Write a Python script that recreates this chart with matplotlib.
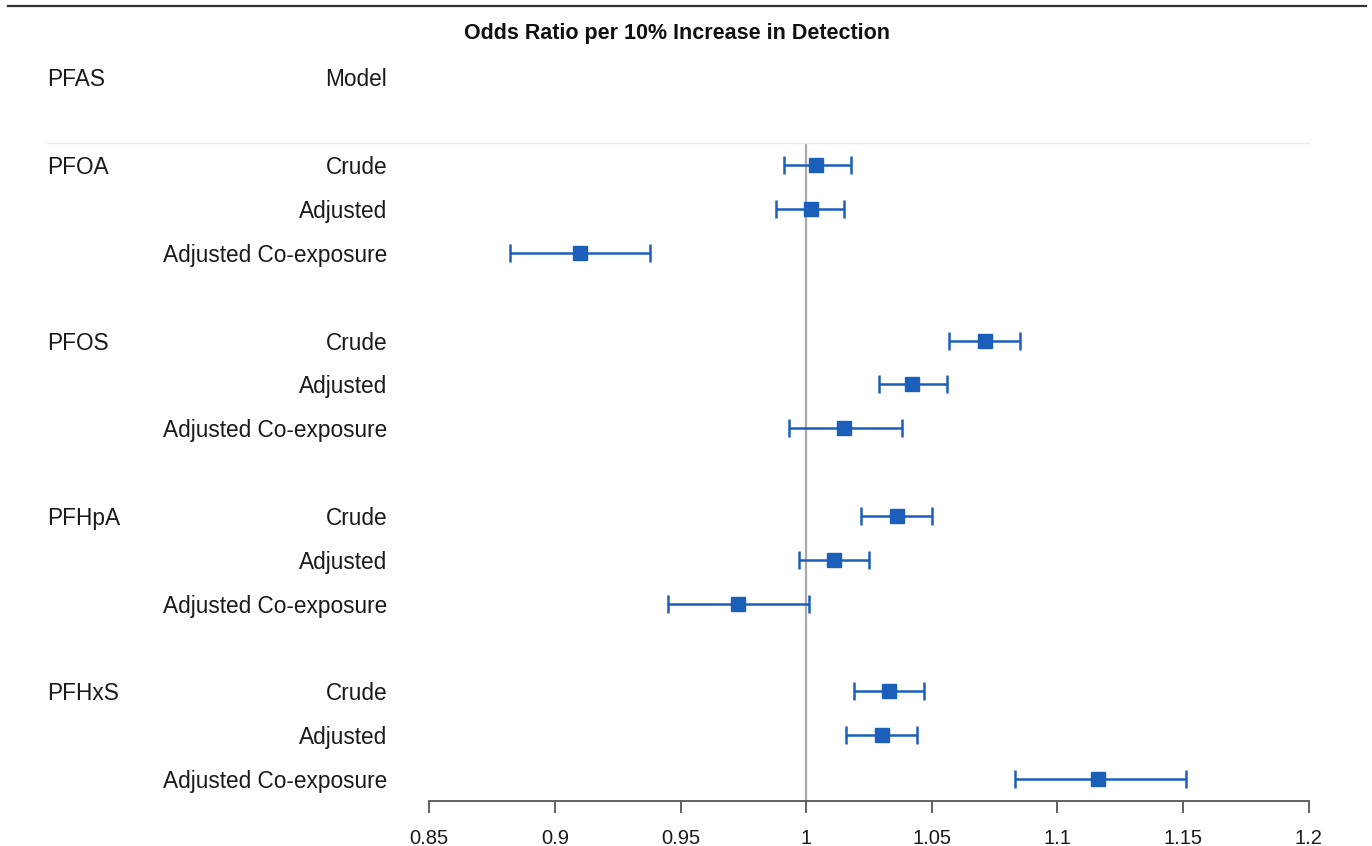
import matplotlib
matplotlib.use("Agg")
import matplotlib.pyplot as plt
import matplotlib.transforms as mtransforms
from matplotlib.lines import Line2D
import numpy as np

plt.rcParams['font.family'] = ['Liberation Sans', 'DejaVu Sans']

# data
pfas = ["PFOA", "PFOS", "PFHpA", "PFHxS"]
models = ["Crude", "Adjusted", "Adjusted Co-exposure"]

odds_ratio = [[1.004, 1.002, 0.910],
              [1.071, 1.042, 1.015],
              [1.036, 1.011, 0.973],
              [1.033, 1.030, 1.116]]
ci_low = [[0.991, 0.988, 0.882],
          [1.057, 1.029, 0.993],
          [1.022, 0.997, 0.945],
          [1.019, 1.016, 1.083]]
ci_high = [[1.018, 1.015, 0.938],
           [1.085, 1.056, 1.038],
           [1.050, 1.025, 1.001],
           [1.047, 1.044, 1.151]]

xticks = [0.85, 0.9, 0.95, 1.0, 1.05, 1.1, 1.15, 1.2]
xtick_labels = ["0.85", "0.9", "0.95", "1", "1.05", "1.1", "1.15", "1.2"]

blue = "#1c5fba"
W, H = 1372, 846

fig = plt.figure(figsize=(13.72, 8.46), dpi=100)
ax = fig.add_axes([429.3 / W, 45 / H, (1308.7 - 429.3) / W, 746 / H])

ypos, xs, lo, hi = [], [], [], []
for g in range(len(pfas)):
    for m in range(len(models)):
        ypos.append(g * 4 + m)
        xs.append(odds_ratio[g][m])
        lo.append(ci_low[g][m])
        hi.append(ci_high[g][m])
ypos = np.array(ypos)
xs = np.array(xs)
err = np.array([xs - np.array(lo), np.array(hi) - xs])

ax.vlines(1.0, -0.5, 14.5, color="#a8a8a8", lw=1.6, zorder=1)
ax.errorbar(xs, ypos, xerr=err, fmt="s", color=blue, ecolor=blue,
            elinewidth=1.8, capsize=6.5, capthick=1.8, markersize=10,
            zorder=3)

ax.set_xlim(0.85, 1.2)
ax.set_ylim(14.5, -2.51)
for s in ["top", "right", "left"]:
    ax.spines[s].set_visible(False)
ax.spines["bottom"].set_color("#555555")
ax.spines["bottom"].set_linewidth(1.3)
ax.set_yticks([])
ax.set_xticks(xticks)
ax.set_xticklabels(xtick_labels)
ax.tick_params(axis="x", length=8.5, width=1.3, color="#555555",
               labelsize=14.5, pad=12, labelcolor="#1a1a1a")

# left-hand text columns
trans = mtransforms.blended_transform_factory(fig.transFigure, ax.transData)
dy = 0.06
kw = dict(transform=trans, fontsize=16.3, va="center", color="#1a1a1a")
ax.text(47 / W, -2 + dy, "PFAS", ha="left", **kw)
ax.text(387 / W, -2 + dy, "Model", ha="right", **kw)
for g, name in enumerate(pfas):
    ax.text(47 / W, g * 4 + dy, name, ha="left", **kw)
    for m, mod in enumerate(models):
        ax.text(387 / W, g * 4 + m + dy, mod, ha="right", **kw)

# header separator line
ax.add_line(Line2D([47 / W, 1308.7 / W], [-0.5, -0.5], transform=trans,
                   color="#ececec", lw=1.0, clip_on=False))

# top rule
fig.add_artist(Line2D([8 / W, 1366 / W], [1 - 6 / H, 1 - 6 / H],
                      transform=fig.transFigure, color="#333333", lw=1.6))

fig.text(677 / W, 1 - 34 / H, "Odds Ratio per 10% Increase in Detection",
         fontsize=15.5, fontweight="bold", ha="center", va="center",
         color="#111111")

fig.savefig("out.png", dpi=100)
